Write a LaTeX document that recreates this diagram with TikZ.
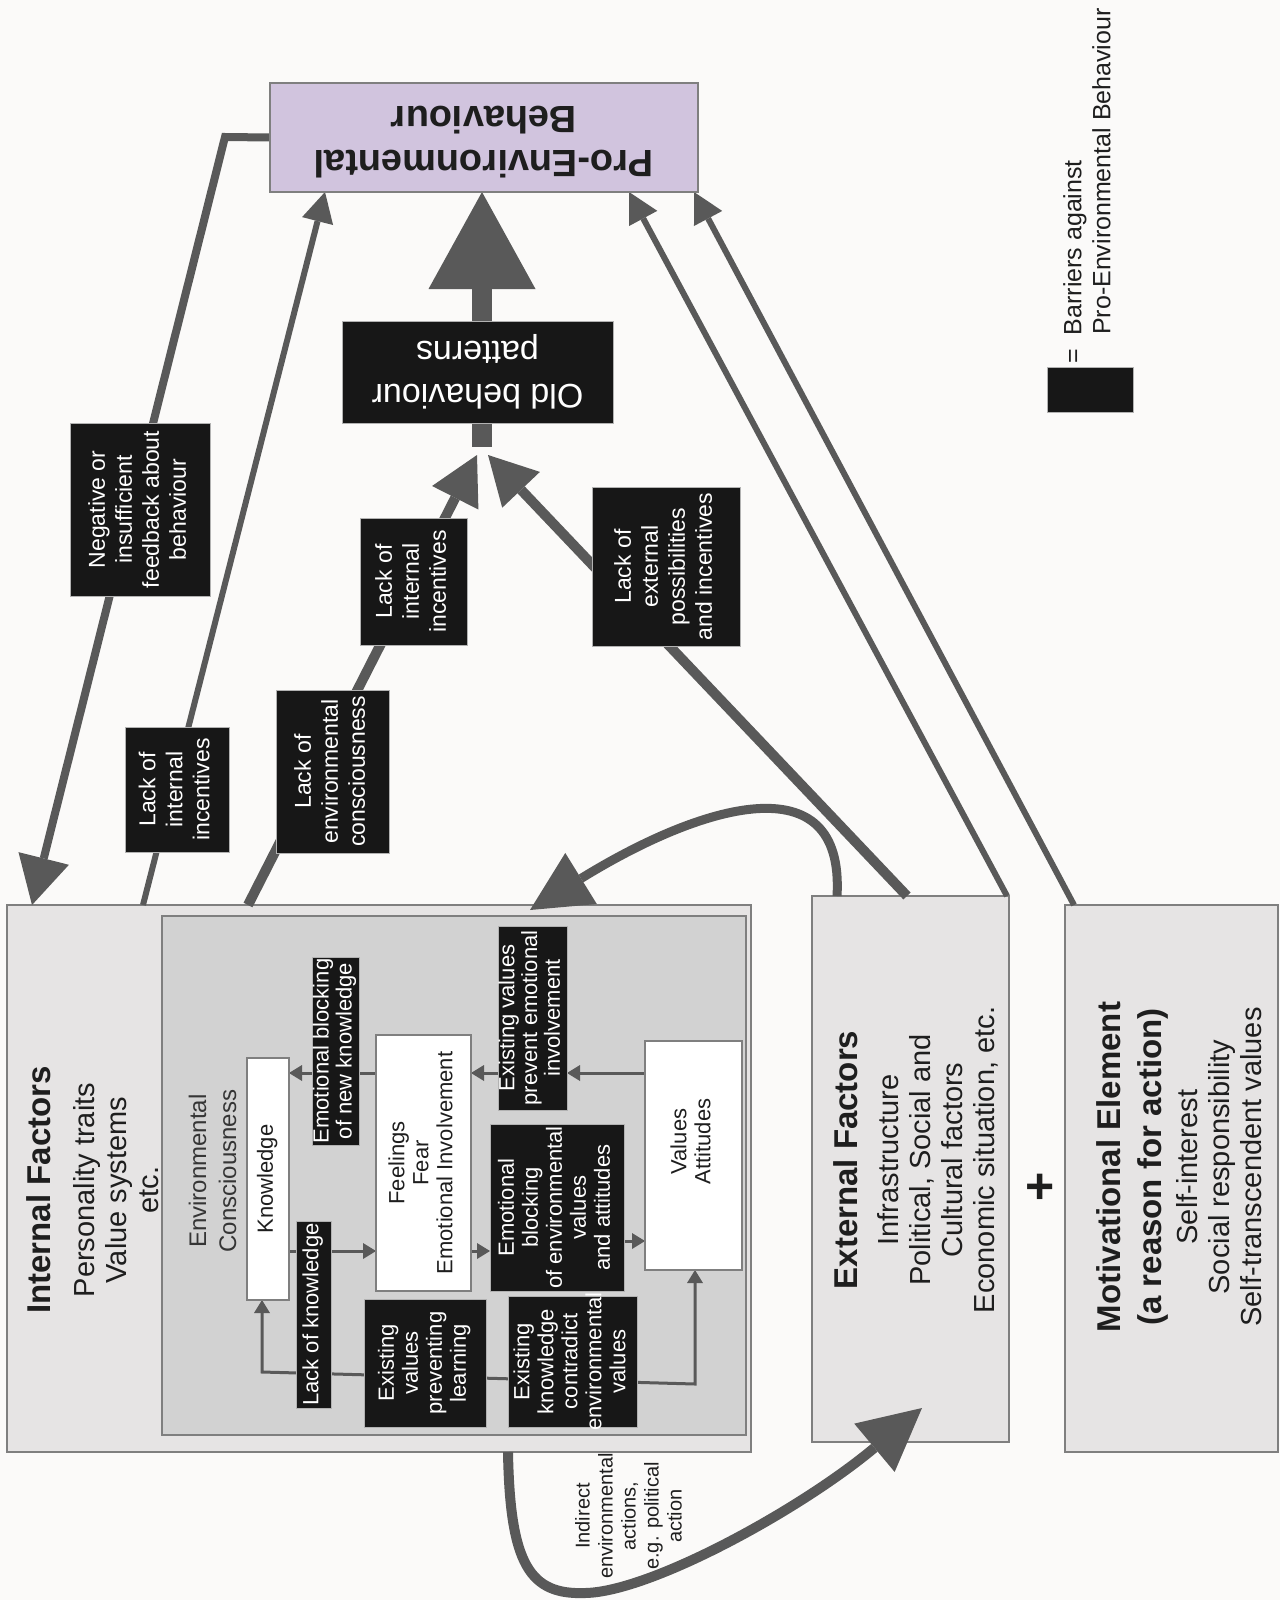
\documentclass[tikz,border=0pt]{standalone}
\usepackage{graphicx}
\usepackage{fontspec}
\setmainfont{Liberation Sans}
\usetikzlibrary{arrows.meta}

\pgfdeclarelayer{boxes}
\pgfdeclarelayer{lines}
\pgfsetlayers{boxes,lines,main}

\definecolor{bgpaper}{HTML}{FBFAF9}
\definecolor{panel}{HTML}{E6E4E4}
\definecolor{panelin}{HTML}{D2D2D2}
\definecolor{edge}{HTML}{7F7F7F}
\definecolor{flow}{HTML}{595959}
\definecolor{barrierfill}{HTML}{171717}
\definecolor{goal}{HTML}{D1C4DE}
\definecolor{ink}{HTML}{1E1E1E}

% text turned to read bottom-to-top, and upside down
\newcommand\rtxt[1]{\rotatebox{90}{\begin{tabular}{@{}c@{}}#1\end{tabular}}}
\newcommand\utxt[1]{\rotatebox{180}{\begin{tabular}{@{}c@{}}#1\end{tabular}}}

\tikzset{
  panelbox/.style={draw=edge, line width=1.5pt, fill=panel, inner sep=0pt, outer sep=0pt},
  innerpanel/.style={draw=edge, line width=1.5pt, fill=panelin, inner sep=0pt, outer sep=0pt},
  whitebox/.style={draw=edge, line width=1.2pt, fill=white, inner sep=0pt, outer sep=0pt,
    text=ink, font=\fontsize{22}{24}\selectfont},
  barrier/.style={draw=gray!60, line width=0.8pt, fill=barrierfill, inner sep=0pt, outer sep=0pt,
    text=white, font=\fontsize{22}{24}\selectfont},
  outerbarrier/.style={barrier, font=\fontsize{23}{27}\selectfont},
  goalbox/.style={draw=edge, line width=1.2pt, fill=goal, inner sep=0pt, outer sep=0pt,
    text=ink, font=\fontsize{38}{44}\selectfont\bfseries},
  bodytext/.style={text=ink, inner sep=0pt, font=\fontsize{29}{32}\selectfont},
  flowline/.style={draw=flow, line cap=butt},
  innerarrow/.style={flowline, line width=3pt, -{Triangle[length=13pt,width=16pt,line width=0pt]}},
  thinflow/.style={flowline, line width=6pt, -{Triangle[length=30pt,width=32pt,line width=0pt]}},
  midflow/.style={flowline, line width=10pt, -{Triangle[length=48pt,width=52pt,line width=0pt]}},
}

\begin{document}
\begin{tikzpicture}[x=1pt,y=-1pt]
\useasboundingbox (0,0) rectangle (1280,1600);

% ---------- background panels ----------
\begin{pgfonlayer}{boxes}
  \fill[bgpaper] (0,0) rectangle (1280,1600);
  \node[panelbox, minimum width=744pt, minimum height=547pt] (internal) at (379,1178.5) {};
  \node[innerpanel, minimum width=584pt, minimum height=519pt] (envbox) at (454,1175.5) {};
  \node[panelbox, minimum width=197pt, minimum height=546pt] (external) at (910.5,1169) {};
  \node[panelbox, minimum width=213pt, minimum height=547pt] (motiv) at (1171.5,1178.5) {};
\end{pgfonlayer}

% ---------- goal and old patterns ----------
\node[goalbox, minimum width=428pt, minimum height=109pt] (pro) at (484,137.5)
  {\utxt{Pro-Environmental\\Behaviour}};
\node[barrier, font=\fontsize{34}{43}\selectfont, minimum width=271pt, minimum height=102pt]
  (old) at (477.5,372) {\utxt{Old behaviour\\patterns}};

% ---------- barriers outside the panels ----------
\node[outerbarrier, minimum width=140pt, minimum height=173pt] (feedback) at (140,509.5)
  {\rtxt{Negative or\\insufficient\\feedback about\\behaviour}};
\node[outerbarrier, minimum width=104pt, minimum height=125pt] (intinc1) at (177,789.5)
  {\rtxt{Lack of\\internal\\incentives}};
\node[outerbarrier, minimum width=113pt, minimum height=163pt] (envlack) at (332.5,771.5)
  {\rtxt{Lack of\\environmental\\consciousness}};
\node[outerbarrier, minimum width=107pt, minimum height=127pt] (intinc2) at (413.5,581.5)
  {\rtxt{Lack of\\internal\\incentives}};
\node[outerbarrier, minimum width=148pt, minimum height=159pt] (extlack) at (666,566.5)
  {\rtxt{Lack of\\external\\possibilities\\and incentives}};

% ---------- panel texts ----------
\node[bodytext] (inttext) at (97,1190)
  {\rtxt{{\fontsize{33}{33}\selectfont\bfseries Internal Factors}\\[12pt]
   Personality traits\\ Value systems\\ etc.}};
\node[bodytext] (exttext) at (919,1160)
  {\rtxt{{\fontsize{33}{33}\selectfont\bfseries External Factors}\\[9pt]
   Infrastructure\\ Political, Social and\\ Cultural factors\\ Economic situation, etc.}};
\node[bodytext] (mottext) at (1184,1167)
  {\rtxt{{\fontsize{33}{33}\selectfont\bfseries Motivational Element}\\[8pt]
   {\fontsize{33}{33}\selectfont\bfseries (a reason for action)}\\[4pt]
   Self-interest\\ Social responsibility\\ Self-transcendent values}};
\node[text=ink, font=\fontsize{50}{50}\selectfont\bfseries, inner sep=0pt] (plus) at (1040,1189) {+};

% ---------- environmental consciousness ----------
\node[text=ink!90, inner sep=0pt, font=\fontsize{24}{30}\selectfont] (envlabel) at (215,1171)
  {\rtxt{Environmental\\Consciousness}};
\node[whitebox, minimum width=42pt, minimum height=242pt] (knowledge) at (268,1179)
  {\rtxt{Knowledge}};
\node[whitebox, minimum width=95pt, minimum height=256pt] (feelings) at (423.5,1163)
  {\rtxt{Feelings\\Fear\\Emotional Involvement}};
\node[whitebox, minimum width=97pt, minimum height=229pt] (values) at (693.5,1155.5)
  {\rotatebox{90}{\hspace{28pt}\begin{tabular}{@{}c@{}}Values\\Attitudes\end{tabular}}};

\node[barrier, font=\fontsize{22}{23}\selectfont, minimum width=47pt, minimum height=188pt]
  (ba) at (335.5,1051) {\rtxt{Emotional blocking\\of new knowledge}};
\node[barrier, minimum width=35pt, minimum height=187pt] (bb) at (313.5,1314.5)
  {\rtxt{Lack of knowledge}};
\node[barrier, minimum width=122pt, minimum height=128pt] (bc) at (425,1363)
  {\rtxt{Existing\\values\\preventing\\learning}};
\node[barrier, minimum width=129pt, minimum height=131pt] (bd) at (572.5,1361.5)
  {\rtxt{Existing\\knowledge\\contradict\\\makebox[120pt]{environmental}\\values}};
\node[barrier, minimum width=134pt, minimum height=167pt] (be) at (557,1207.5)
  {\rtxt{Emotional\\blocking\\of environmental\\values\\and attitudes}};
\node[barrier, font=\fontsize{22}{22.5}\selectfont, minimum width=69pt, minimum height=184pt]
  (bf) at (532.5,1018) {\rtxt{Existing values\\prevent emotional\\involvement}};

% ---------- indirect action label ----------
\node[text=ink, inner sep=0pt, font=\fontsize{20}{23}\selectfont] (indirect) at (631,1516)
  {\rtxt{Indirect\\environmental\\actions,\\e.g. political\\action}};

% ---------- legend ----------
\node[barrier, minimum width=86pt, minimum height=45pt] (legend) at (1090,389.5) {};
\node[text=ink, inner sep=0pt, font=\fontsize{25}{29}\selectfont, rotate=90, anchor=west, align=left]
  (legendtext) at (1087,364) {=\hspace{14pt}Barriers against\\\hspace{29pt}Pro-Environmental Behaviour};

% ---------- connectors ----------
\begin{pgfonlayer}{lines}
  % inside environmental consciousness
  \coordinate (rowA) at (0,1073);
  \coordinate (rowB) at (0,1251);
  \coordinate (rowC) at (0,1241);
  \draw[innerarrow] (knowledge.east |- rowB) -- (feelings.west |- rowB);
  \draw[innerarrow] (feelings.east |- rowB) -- (be.west |- rowB);
  \draw[innerarrow] (be.east |- rowC) -- (values.west |- rowC);
  \draw[innerarrow] (values.west |- rowA) -- (bf.east |- rowA);
  \draw[innerarrow] (bf.west |- rowA) -- (feelings.east |- rowA);
  \draw[innerarrow] (feelings.west |- rowA) -- (knowledge.east |- rowA);
  \coordinate (loopL) at (262,1372);
  \coordinate (loopR) at (695,1384);
  \coordinate (loopM) at (480,1378);
  \draw[innerarrow] (loopM) -- (loopL) -- (knowledge.south -| loopL);
  \draw[innerarrow] (loopM) -- (loopR) -- (values.south -| loopR);

  % feedback from behaviour back to internal factors
  \coordinate (fbk) at (225,137);
  \draw[flowline, line width=8pt, line join=miter,
        -{Triangle[length=48pt,width=52pt,line width=0pt]}]
    (pro.west) -- (fbk) -- ([xshift=25pt]internal.north west);

  % internal factors to behaviour
  \draw[thinflow] ([xshift=136pt]internal.north west) -- ([xshift=55pt]pro.south west);

  % barriers converging on old behaviour patterns
  \coordinate (tipL) at (477,455);
  \coordinate (tipR) at (488,455);
  \draw[midflow] ([xshift=241pt]internal.north west) -- (tipL);
  \draw[midflow] ([xshift=95pt]external.north west) -- (tipR);

  % old behaviour patterns to behaviour
  \coordinate (shaftx) at (482,0);
  \coordinate (oldfoot) at (482,447);
  \draw[flowline, line width=20pt, -{Triangle[length=97pt,width=107pt,line width=0pt]}]
    (old.north -| shaftx) -- (pro.south -| shaftx);
  \draw[flowline, line width=20pt] (old.south -| shaftx) -- (oldfoot);

  % external factors and motivation to behaviour
  \draw[thinflow] ([xshift=-2pt]external.north east) -- ([xshift=-69pt]pro.south east);
  \draw[thinflow] ([xshift=9pt]motiv.north west) -- ([xshift=-4pt]pro.south east);

  % external factors acting on internal factors
  \draw[flowline, line width=9pt, -{Triangle[length=60pt,width=60pt,line width=0pt]}]
    ([xshift=25pt]external.north west) .. controls (845,760) and (700,805) ..
    ([xshift=523pt,yshift=-5pt]internal.north west);

  % indirect environmental actions
  \draw[flowline, line width=10pt, -{Triangle[length=62pt,width=63pt,line width=0pt]}]
    ([xshift=501pt]internal.south west) .. controls (510,1565) and (530,1595) .. (585,1593)
    .. controls (650,1592) and (800,1510) .. ([xshift=110pt,yshift=34pt]external.south west);
\end{pgfonlayer}
\end{tikzpicture}
\end{document}
